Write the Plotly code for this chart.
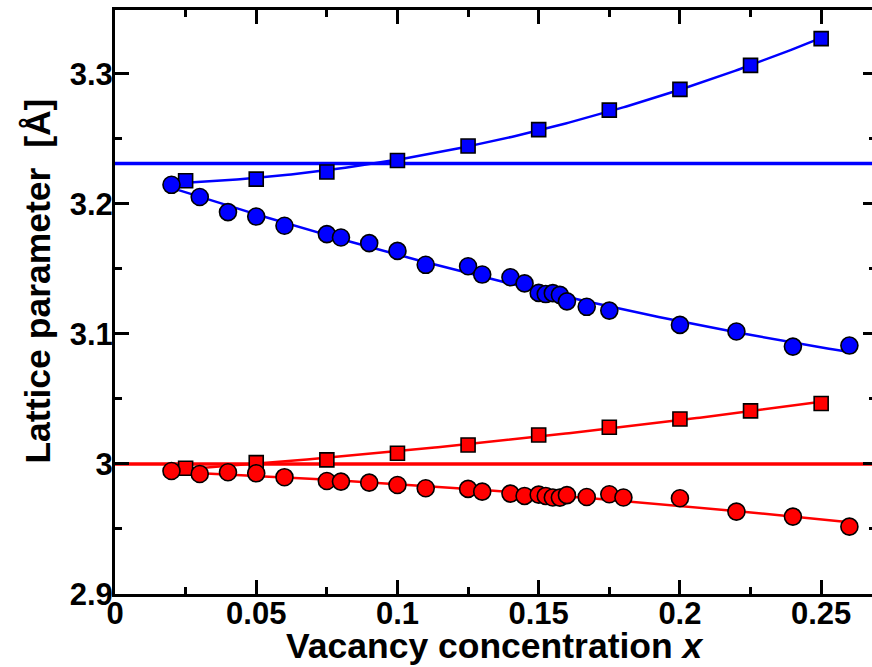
import numpy as np
import plotly.graph_objects as go

# Vacancy concentrations and lattice parameters (Å)
x_sq = [0.025, 0.05, 0.075, 0.1, 0.125, 0.15, 0.175, 0.2, 0.225, 0.25]
a_sq_blue = [3.2177, 3.2190, 3.2244, 3.2333, 3.2444, 3.2570, 3.2720, 3.2880, 3.3064, 3.3270]
a_sq_red = [2.9967, 3.0010, 3.0031, 3.0082, 3.0146, 3.0223, 3.0282, 3.0346, 3.0408, 3.0465]

x_circ_blue = [0.02, 0.03, 0.04, 0.05, 0.06, 0.075, 0.08, 0.09, 0.1, 0.11, 0.125, 0.13,
               0.14, 0.145, 0.15, 0.1525, 0.155, 0.1575, 0.16, 0.167, 0.175, 0.2, 0.22,
               0.24, 0.26]
a_circ_blue = [3.2146, 3.2052, 3.1936, 3.1902, 3.1831, 3.1767, 3.1741, 3.1698, 3.1638,
               3.1531, 3.1520, 3.1456, 3.1435, 3.1388, 3.1315, 3.1306, 3.1313, 3.1300,
               3.1250, 3.1208, 3.1179, 3.1069, 3.1018, 3.0902, 3.0910]

x_circ_red = [0.02, 0.03, 0.04, 0.05, 0.06, 0.075, 0.08, 0.09, 0.1, 0.11, 0.125, 0.13,
              0.14, 0.145, 0.15, 0.1525, 0.155, 0.1575, 0.16, 0.167, 0.175, 0.18, 0.2,
              0.22, 0.24, 0.26]
a_circ_red = [2.9946, 2.9923, 2.9936, 2.9928, 2.9898, 2.9869, 2.9864, 2.9856, 2.9838,
              2.9813, 2.9808, 2.9787, 2.9772, 2.9754, 2.9764, 2.9754, 2.9742, 2.9741,
              2.9760, 2.9746, 2.9767, 2.9742, 2.9736, 2.9633, 2.9595, 2.9518]

a_ref_blue = 3.231
a_ref_red = 3.0

x_ticks = [0, 0.05, 0.1, 0.15, 0.2, 0.25]
x_tick_text = ["0", "0.05", "0.1", "0.15", "0.2", "0.25"]
y_ticks = [2.9, 3.0, 3.1, 3.2, 3.3]
y_tick_text = ["2.9", "3", "3.1", "3.2", "3.3"]

BLUE = "#0000ff"
RED = "#ff0000"
FONT = "Liberation Sans, Arial, Helvetica, sans-serif"

x_range = [0, 0.268]
y_range = [2.9, 3.349]


def fit_curve(x, y, deg=2):
    """Least-squares polynomial fit evaluated over the span of the data."""
    c = np.polyfit(x, y, deg)
    xs = np.linspace(min(x), max(x), 200)
    return xs, np.polyval(c, xs)


fig = go.Figure()

# reference (bulk) lattice parameters as horizontal lines
for a, col in [(a_ref_blue, BLUE), (a_ref_red, RED)]:
    fig.add_shape(type="line", xref="paper", yref="y", x0=0, x1=1, y0=a, y1=a,
                  line=dict(color=col, width=3.5), layer="below")

# fitted curves
for xd, yd, col in [(x_sq, a_sq_blue, BLUE), (x_circ_blue, a_circ_blue, BLUE),
                    (x_sq, a_sq_red, RED), (x_circ_red, a_circ_red, RED)]:
    xs, ys = fit_curve(xd, yd, 2)
    fig.add_trace(go.Scatter(x=xs, y=ys, mode="lines",
                             line=dict(color=col, width=2.5), hoverinfo="skip"))

# data points
for xd, yd, col, sym, size in [(x_sq, a_sq_blue, BLUE, "square", 14),
                               (x_circ_blue, a_circ_blue, BLUE, "circle", 17),
                               (x_sq, a_sq_red, RED, "square", 14),
                               (x_circ_red, a_circ_red, RED, "circle", 17)]:
    fig.add_trace(go.Scatter(x=xd, y=yd, mode="markers",
                             marker=dict(symbol=sym, size=size, color=col,
                                         line=dict(color="black", width=1.6))))

# right-hand ticks without a frame line
fig.add_trace(go.Scatter(x=[None], y=[None], yaxis="y2", showlegend=False))

tickfont = dict(family=FONT, size=31, color="black", weight="bold")

fig.update_layout(
    width=872, height=667,
    margin=dict(l=115, r=0, t=10, b=73),
    paper_bgcolor="white", plot_bgcolor="white",
    showlegend=False,
    xaxis=dict(range=x_range, tickvals=x_ticks, ticktext=x_tick_text,
               ticks="inside", ticklen=14, tickwidth=2.5, tickcolor="black",
               showline=True, linewidth=3, linecolor="black", mirror="ticks",
               showgrid=False, zeroline=False, tickfont=tickfont,
               ticklabelstandoff=-10,
               minor=dict(dtick=0.025, tick0=0, ticks="inside", ticklen=7,
                          tickwidth=2.5, tickcolor="black", showgrid=False)),
    yaxis=dict(range=y_range, tickvals=y_ticks, ticktext=y_tick_text,
               ticks="inside", ticklen=14, tickwidth=2.5, tickcolor="black",
               showline=True, linewidth=3, linecolor="black",
               showgrid=False, zeroline=False, tickfont=tickfont,
               ticklabelstandoff=-7,
               minor=dict(dtick=0.05, tick0=2.9, ticks="inside", ticklen=7,
                          tickwidth=2.5, tickcolor="black", showgrid=False)),
    yaxis2=dict(range=y_range, overlaying="y", side="right", tickvals=y_ticks,
                showticklabels=False, ticks="inside", ticklen=9, tickwidth=2.5,
                tickcolor="black", showline=False, showgrid=False, zeroline=False,
                minor=dict(dtick=0.05, tick0=2.9, ticks="inside", ticklen=3,
                           tickwidth=2.5, tickcolor="black", showgrid=False)),
    annotations=[
        dict(text="Vacancy concentration <i>x</i>", xref="paper", yref="paper",
             x=0.502, y=0, yshift=-30, xanchor="center", yanchor="top",
             showarrow=False,
             font=dict(family=FONT, size=35.5, color="black", weight="bold")),
        dict(text="Lattice parameter  [Å]", xref="paper", yref="paper",
             x=0, y=0.535, xshift=-77, xanchor="center", yanchor="middle",
             textangle=-90, showarrow=False,
             font=dict(family=FONT, size=35.5, color="black", weight="bold")),
    ],
)

fig.write_html("out.html")
